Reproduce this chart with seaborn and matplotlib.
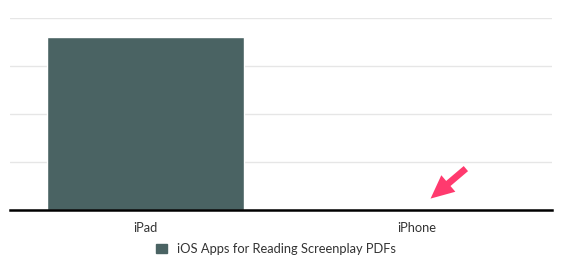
import matplotlib
matplotlib.use("Agg")
import matplotlib.pyplot as plt
import seaborn as sns
import pandas as pd
from matplotlib.patches import Patch

categories = ["iPad", "iPhone"]
values = [36, 0]
series_name = "iOS Apps for Reading Screenplay PDFs"
bar_color = "#4a6363"

sns.set_theme(style="white")
plt.rcParams['font.family'] = ['Lato', 'DejaVu Sans']

df = pd.DataFrame({"device": categories, "count": values})

fig = plt.figure(figsize=(5.73, 2.66), dpi=100)
ax = fig.add_axes([10/573, 56/266, 542/573, 192/266])
sns.barplot(data=df, x="device", y="count", color=bar_color, width=0.73,
            saturation=1, ax=ax)
ax.set_ylim(0, 40)
ax.set_xlim(-0.5, 1.5)
ax.set_yticks([0, 10, 20, 30, 40])
ax.set_yticklabels([])
ax.yaxis.grid(True, color="#e6e6e6", linewidth=1)
ax.set_axisbelow(True)
ax.tick_params(axis="y", length=0)
ax.tick_params(axis="x", length=0, labelsize=9.3, colors="#333333", pad=9)
ax.set_xlabel("")
ax.set_ylabel("")
for s in ["top", "right", "left"]:
    ax.spines[s].set_visible(False)
ax.spines["bottom"].set_color("black")
ax.spines["bottom"].set_linewidth(1.8)

ax.annotate("", xy=(0.772, 0.05), xycoords="axes fraction",
            xytext=(0.845, 0.225), textcoords="axes fraction",
            arrowprops=dict(arrowstyle="simple,head_width=1.3,head_length=1.4,tail_width=0.4",
                            color="#ff3a6e", lw=0))

handles = [Patch(facecolor=bar_color, edgecolor=bar_color, label=series_name)]
fig.legend(handles=handles, loc="center", bbox_to_anchor=(276/573, 1 - 249/266),
           frameon=False, fontsize=9.3, handlelength=0.8, handleheight=0.8,
           handletextpad=0.8, labelcolor="#333333")

fig.savefig("out.png", dpi=100)
